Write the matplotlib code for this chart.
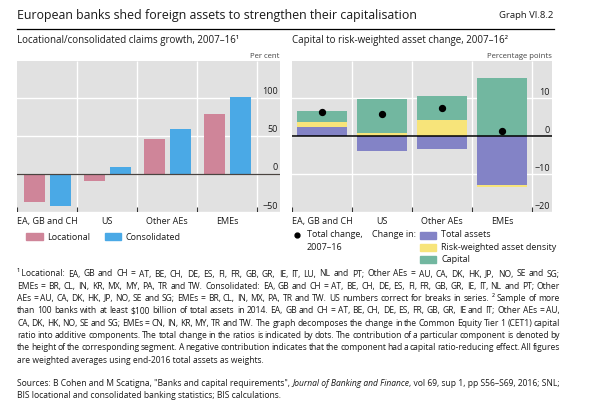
import matplotlib
import matplotlib.pyplot as plt
import numpy as np

# data
categories = ['EA, GB and CH', 'US', 'Other AEs', 'EMEs']
locational = [-37, -9, 46, 79]
consolidated = [-42, 9, 59, 101]
left_ticks = [-50, 0, 50, 100]

total_assets = [2.4, -3.9, -3.3, -12.9]
rwa_density = [1.2, 0.7, 4.2, -0.4]
capital = [2.9, 9.0, 6.4, 15.3]
total_change = [6.3, 5.7, 7.3, 1.4]
right_ticks = [-20, -10, 0, 10]

notes = [
    '\u00b9\u2009Locational: EA, GB and CH = AT, BE, CH, DE, ES, FI, FR, GB, GR, IE, IT, LU, NL and PT; Other AEs = AU, CA, DK, HK, JP, NO, SE and SG;',
    'EMEs = BR, CL, IN, KR, MX, MY, PA, TR and TW. Consolidated: EA, GB and CH = AT, BE, CH, DE, ES, FI, FR, GB, GR, IE, IT, NL and PT; Other',
    'AEs = AU, CA, DK, HK, JP, NO, SE and SG; EMEs = BR, CL, IN, MX, PA, TR and TW. US numbers correct for breaks in series.  \u00b2 Sample of more',
    'than 100 banks with at least $100 billion of total assets in 2014. EA, GB and CH = AT, BE, CH, DE, ES, FR, GB, GR, IE and IT; Other AEs = AU,',
    'CA, DK, HK, NO, SE and SG; EMEs = CN, IN, KR, MY, TR and TW. The graph decomposes the change in the Common Equity Tier 1 (CET1) capital',
    'ratio into additive components. The total change in the ratios is indicated by dots. The contribution of a particular component is denoted by',
    'the height of the corresponding segment. A negative contribution indicates that the component had a capital ratio-reducing effect. All figures',
    'are weighted averages using end-2016 total assets as weights.',
]

# constants
W, H = 590, 407
bg = '#e1e1e1'
pink = '#cf8599'
blue = '#4aa9e6'
purple = '#8383c6'
yellow = '#f7e47a'
teal = '#72b7a0'
txt = '#1a1a1a'
fs = 6.5
note_fs = 6.15
text_right = 560
matplotlib.rcParams.update({'font.family': 'Open Sans', 'font.size': fs})


def px_axes(fig, x0, y0, x1, y1):
    return fig.add_axes([x0 / W, 1 - y1 / H, (x1 - x0) / W, (y1 - y0) / H])


def style_panel(ax, ticks, xmax, ylim):
    ax.set_facecolor(bg)
    ax.set_xlim(-0.5, xmax)
    ax.set_ylim(*ylim)
    for s in ax.spines.values():
        s.set_visible(False)
    ax.set_xticks([])
    ax.set_yticks([])
    for t in ticks:
        ax.axhline(t, color='white', lw=1.0, zorder=0)
        lab = str(t).replace('-', '\u2212')
        ax.annotate(lab, xy=(1, t), xycoords=ax.get_yaxis_transform(),
                    xytext=(-1.5, 1), textcoords='offset points',
                    ha='right', va='bottom', fontsize=fs, color=txt)
    n = len(categories)
    bounds = np.arange(n + 1) - 0.5
    ax.vlines(bounds[1:], 0, 1, transform=ax.get_xaxis_transform(), color='white', lw=1.0, zorder=0)
    ax.vlines(bounds, 0, 0.03, transform=ax.get_xaxis_transform(), color='#333333', lw=0.8)
    for i, c in enumerate(categories):
        ax.text(i, -0.035, c, transform=ax.get_xaxis_transform(), ha='center', va='top',
                fontsize=fs, color=txt)


def justified(fig, renderer, line, y, x0, x1, **kw):
    # place words one by one so the line fills x0..x1
    words = line.split(' ')
    words = [w for w in words if w]
    arts = [fig.text(0, 1 - y / H, w, va='center', **kw) for w in words]
    widths = [a.get_window_extent(renderer).width for a in arts]
    gap = (x1 - x0 - sum(widths)) / max(len(words) - 1, 1)
    xp = x0
    for a, w in zip(arts, widths):
        a.set_x(xp / W)
        xp += w + gap


fig = plt.figure(figsize=(W / 100, H / 100), dpi=100)
r = fig.canvas.get_renderer()

# title
fig.text(17 / W, 1 - 16 / H, 'European banks shed foreign assets to strengthen their capitalisation',
         fontsize=8.9, ha='left', va='center', color=txt)
fig.text(553 / W, 1 - 16 / H, 'Graph VI.8.2', fontsize=6.8, ha='right', va='center', color=txt)
fig.add_artist(plt.Line2D([17 / W, 554 / W], [1 - 29 / H, 1 - 29 / H], color='black', lw=0.9))

# left panel
ax1 = px_axes(fig, 17, 61, 280, 212)
style_panel(ax1, left_ticks, 3.883, (-50, 148))
x = np.arange(len(categories))
ax1.bar(x - 0.21, locational, width=0.35, color=pink, zorder=2)
ax1.bar(x + 0.22, consolidated, width=0.35, color=blue, zorder=2)
ax1.axhline(0, color='#4a4440', lw=0.9, zorder=3)
fig.text(17 / W, 1 - 41 / H, 'Locational/consolidated claims growth, 2007\u201316\u00b9',
         fontsize=7.0, ha='left', va='center', color=txt)
fig.text(279 / W, 1 - 56 / H, 'Per cent', fontsize=5.6, ha='right', va='center', color='#444444')

# left legend
fig.add_artist(plt.Rectangle((26 / W, 1 - 240 / H), 17 / W, 7 / H, color=pink))
fig.text(47 / W, 1 - 237 / H, 'Locational', fontsize=fs, va='center', color=txt)
fig.add_artist(plt.Rectangle((105 / W, 1 - 240 / H), 16 / W, 7 / H, color=blue))
fig.text(125 / W, 1 - 237 / H, 'Consolidated', fontsize=fs, va='center', color=txt)

# right panel
ax2 = px_axes(fig, 292, 61, 552, 212)
style_panel(ax2, right_ticks, 3.83, (-20, 19.8))
pos_bottom = np.zeros(len(categories))
neg_bottom = np.zeros(len(categories))
for vals, col in [(total_assets, purple), (rwa_density, yellow), (capital, teal)]:
    vals = np.array(vals, dtype=float)
    bottom = np.where(vals >= 0, pos_bottom, neg_bottom)
    ax2.bar(x, vals, width=0.83, bottom=bottom, color=col, zorder=2)
    pos_bottom += np.where(vals >= 0, vals, 0)
    neg_bottom += np.where(vals < 0, vals, 0)
ax2.axhline(0, color='black', lw=1.1, zorder=3)
ax2.scatter(x, total_change, s=18, color='black', zorder=4)
fig.text(292 / W, 1 - 41 / H, 'Capital to risk-weighted asset change, 2007\u201316\u00b2',
         fontsize=7.0, ha='left', va='center', color=txt)
fig.text(552 / W, 1 - 56 / H, 'Percentage points', fontsize=5.6, ha='right', va='center', color='#444444')

# right legend
fig.add_artist(plt.Line2D([297 / W], [1 - 235 / H], marker='o', markersize=3.5, color='black'))
fig.text(307 / W, 1 - 235 / H, 'Total change,', fontsize=fs, va='center', color=txt)
fig.text(307 / W, 1 - 247 / H, '2007\u201316', fontsize=fs, va='center', color=txt)
fig.text(372 / W, 1 - 235 / H, 'Change in:', fontsize=fs, va='center', color=txt)
for i, (lab, col) in enumerate([('Total assets', purple), ('Risk-weighted asset density', yellow),
                                 ('Capital', teal)]):
    yc = 235 + 12 * i
    fig.add_artist(plt.Rectangle((420 / W, 1 - (yc + 3.5) / H), 16 / W, 7 / H, color=col))
    fig.text(441 / W, 1 - yc / H, lab, fontsize=fs, va='center', color=txt)

# footnotes
for i, line in enumerate(notes):
    y = 274 + 12.3 * i
    if i < len(notes) - 1:
        justified(fig, r, line, y, 17, text_right, fontsize=note_fs, color=txt)
    else:
        fig.text(17 / W, 1 - y / H, line, fontsize=note_fs, va='center', color=txt)

s1 = fig.text(17 / W, 1 - 384 / H, 'Sources: B Cohen and M Scatigna, "Banks and capital requirements", ',
              fontsize=note_fs, va='center', color=txt)
s2 = fig.text(0, 0, 'Journal of Banking and Finance', fontsize=note_fs, style='italic', color=txt, va='bottom')
s3 = fig.text(0, 0, ', vol 69, sup 1, pp S56\u2013S69, 2016; SNL;', fontsize=note_fs, color=txt, va='bottom')
fig.text(17 / W, 1 - 396 / H, 'BIS locational and consolidated banking statistics; BIS calculations.',
         fontsize=note_fs, va='center', color=txt)

bb = s1.get_window_extent(r)
s2.set_position((bb.x1 / fig.bbox.width, bb.y0 / fig.bbox.height))
bb2 = s2.get_window_extent(r)
s3.set_position((bb2.x1 / fig.bbox.width, bb.y0 / fig.bbox.height))

plt.savefig('out.png', dpi=100)
